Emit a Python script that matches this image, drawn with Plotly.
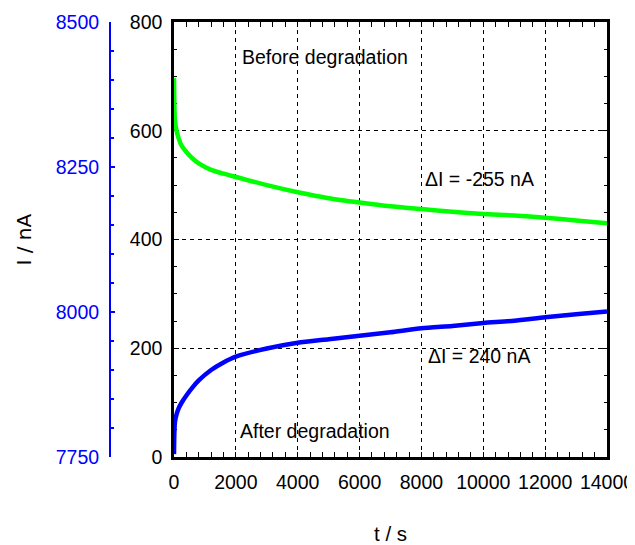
import plotly.graph_objects as go

# time axis (s)
t_green = [0, 10, 30, 80, 150, 250, 400, 600, 800, 1200, 1600, 2000, 3000, 4000, 5000,
           6000, 7000, 8000, 9000, 10000, 11000, 12000, 13000, 14000]
# Before degradation (left black axis, nA)
i_before = [697, 650, 620, 601, 586, 572, 561, 549, 540, 528, 521, 515, 500, 487, 476,
            468, 461, 456, 451, 447, 444, 440, 435, 430]

t_blue = [0, 10, 30, 80, 150, 250, 400, 600, 800, 1200, 1600, 2000, 3000, 4000, 5000,
          6000, 7000, 8000, 9000, 10000, 11000, 12000, 13000, 14000]
# After degradation (blue axis, nA)
i_after = [7755, 7788, 7810, 7823, 7834, 7844, 7856, 7870, 7882, 7900, 7913, 7923,
           7937, 7947, 7953, 7959, 7965, 7972, 7976, 7981, 7985, 7991, 7996, 8001]

x_ticks = [0, 2000, 4000, 6000, 8000, 10000, 12000, 14000]
x_labels = ["0", "2000", "4000", "6000", "8000", "10000", "12000", "14000"]
y_ticks = [0, 200, 400, 600, 800]
y2_ticks = [7750, 8000, 8250, 8500]

FONT = "Liberation Sans, Arial, sans-serif"
FS = 19.5

fig = go.Figure()
fig.add_trace(go.Scatter(x=t_blue, y=i_after, yaxis="y2", mode="lines",
                         line=dict(color="rgb(0,0,255)", width=4.5, shape="spline", smoothing=0.6),
                         showlegend=False))
fig.add_trace(go.Scatter(x=t_green, y=i_before, yaxis="y", mode="lines",
                         line=dict(color="rgb(0,255,0)", width=4.5, shape="spline", smoothing=0.6),
                         showlegend=False))

axis_common = dict(showline=True, linecolor="black", linewidth=2.5, mirror="allticks",
                   ticks="inside", ticklen=5, tickwidth=1, tickcolor="black",
                   showgrid=True, gridcolor="black", gridwidth=1, griddash="4px,4px",
                   zeroline=False, layer="below traces", automargin=False,
                   tickfont=dict(family=FONT, size=FS, color="black"))

fig.update_layout(
    width=635, height=545,
    margin=dict(l=92, r=36, t=14, b=96),
    paper_bgcolor="white", plot_bgcolor="white",
    xaxis=dict(domain=[74 / 507, 1], range=[0, 14000], tickvals=x_ticks, ticktext=x_labels,
               minor=dict(dtick=400, ticks="inside", ticklen=3, tickcolor="black", showgrid=False),
               ticklabelstandoff=6, **axis_common),
    yaxis=dict(range=[0, 800], tickvals=y_ticks, anchor="x",
               minor=dict(dtick=50, ticks="inside", ticklen=3, tickcolor="black", showgrid=False),
               ticklabelstandoff=5, **axis_common),
    yaxis2=dict(range=[7750, 8500], tickvals=y2_ticks, overlaying="y", anchor="free",
                position=10 / 507, side="left", showline=True, linecolor="blue", linewidth=2,
                ticks="inside", ticklen=4, tickcolor="blue", tickwidth=1.5,
                minor=dict(dtick=50, ticks="inside", ticklen=3, tickcolor="blue", showgrid=False),
                showgrid=False, zeroline=False, automargin=False, ticklabelstandoff=6,
                tickfont=dict(family=FONT, size=FS, color="blue")),
    annotations=[
        dict(text="Before degradation", x=4880, y=736, xref="x", yref="y", showarrow=False,
             font=dict(family=FONT, size=FS, color="black")),
        dict(text="ΔI = -255 nA", x=9890, y=511, xref="x", yref="y", showarrow=False,
             font=dict(family=FONT, size=FS, color="black")),
        dict(text="ΔI = 240 nA", x=9860, y=186, xref="x", yref="y", showarrow=False,
             font=dict(family=FONT, size=FS, color="black")),
        dict(text="After degradation", x=4560, y=48, xref="x", yref="y", showarrow=False,
             font=dict(family=FONT, size=FS, color="black")),
        dict(text="t / s", x=(390 - 100) / 507, y=(457 - 533) / 435, xref="paper", yref="paper",
             xanchor="center", yanchor="middle", showarrow=False,
             font=dict(family=FONT, size=FS + 1, color="black")),
        dict(text="I / nA", x=(23 - 100) / 507, y=0.5, xref="paper", yref="paper",
             xanchor="center", yanchor="middle", textangle=-90, showarrow=False,
             font=dict(family="DejaVu Sans, sans-serif", size=20, color="black")),
    ],
)

fig.write_html("out.html")
